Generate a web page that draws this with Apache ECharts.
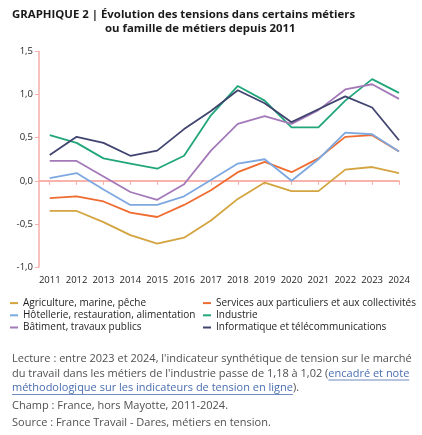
<!DOCTYPE html>
<html>
<head>
<meta charset="utf-8">
<script src="https://cdn.jsdelivr.net/npm/echarts@6/dist/echarts.min.js"></script>
<style>
html,body{margin:0;padding:0;background:#fff;}
#c{width:422px;height:435px;}
</style>
</head>
<body>
<div id="c"></div>
<script>
// ---- data ----
const years = [2011,2012,2013,2014,2015,2016,2017,2018,2019,2020,2021,2022,2023,2024];
const yTicks = [-1, -0.5, 0, 0.5, 1, 1.5];
const seriesNames = [
  "Agriculture, marine, pêche",
  "Services aux particuliers et aux collectivités",
  "Hôtellerie, restauration, alimentation",
  "Industrie",
  "Bâtiment, travaux publics",
  "Informatique et télécommunications"
];
const agriculture  = [-0.35,-0.35,-0.48,-0.63,-0.73,-0.66,-0.46,-0.21,-0.02,-0.12,-0.12,0.13,0.16,0.09];
const services     = [-0.20,-0.18,-0.24,-0.37,-0.42,-0.28,-0.11,0.10,0.22,0.10,0.26,0.51,0.53,0.34];
const hotellerie   = [0.03,0.09,-0.10,-0.28,-0.28,-0.18,0.01,0.20,0.25,0.00,0.25,0.56,0.54,0.34];
const industrie    = [0.53,0.44,0.26,0.20,0.14,0.29,0.76,1.10,0.93,0.62,0.62,0.93,1.18,1.02];
const batiment     = [0.23,0.23,0.05,-0.13,-0.22,-0.04,0.35,0.66,0.75,0.66,0.82,1.06,1.12,0.95];
const informatique = [0.30,0.51,0.44,0.29,0.35,0.60,0.81,1.05,0.90,0.68,0.83,0.98,0.85,0.47];
const seriesValues = [agriculture, services, hotellerie, industrie, batiment, informatique];
const colors = ["#d3a43f","#ef6b2f","#7ea8e0","#21a67c","#a479b9","#41446f"];

const titleLine1 = "GRAPHIQUE 2 | Évolution des tensions dans certains métiers";
const titleLine2 = "ou famille de métiers depuis 2011";
const note1 = "Lecture : entre 2023 et 2024, l'indicateur synthétique de tension sur le marché";
const note2a = "du travail dans les métiers de l'industrie passe de 1,18 à 1,02 (";
const note2b = "encadré et note";
const note3a = "méthodologique sur les indicateurs de tension en ligne";
const note3b = ").";
const note4 = "Champ : France, hors Mayotte, 2011-2024.";
const note5 = "Source : France Travail - Dares, métiers en tension.";

// ---- styles ----
const FONT = "Open Sans";
const PINK = "#f9aea8";
const noteSize = 11;
const noteColor = "#505050";
const linkColor = "#4a6db0";

const mctx = document.createElement("canvas").getContext("2d");
mctx.font = noteSize + "px " + FONT;
const w2a = mctx.measureText(note2a).width;
const w2b = mctx.measureText(note2b).width;
const w3a = mctx.measureText(note3a).width;

const chart = echarts.init(document.getElementById("c"), null, {renderer: "canvas"});

const series = seriesNames.map((n, i) => ({
  name: n,
  type: "line",
  data: years.map((y, j) => [y, seriesValues[i][j]]),
  symbol: "none",
  color: colors[i],
  lineStyle: {width: 1.8, color: colors[i]},
  z: 3,
  animation: false
}));
series[0].markLine = {
  silent: true,
  symbol: "none",
  label: {show: false},
  lineStyle: {color: PINK, width: 1.5, type: "solid"},
  data: [{yAxis: 0}],
  z: 1,
  animation: false
};

const legendText = {fontFamily: FONT, fontSize: 10, color: "#1e1e1e", lineHeight: 12.2};

const option = {
  animation: false,
  textStyle: {fontFamily: FONT},
  title: [
    {text: titleLine1, left: 12, top: 9, padding: 0,
     textStyle: {fontFamily: FONT, fontSize: 11.4, fontWeight: "bold", color: "#1a1a1a"}},
    {text: titleLine2, left: 105, top: 23, padding: 0,
     textStyle: {fontFamily: FONT, fontSize: 11.4, fontWeight: "bold", color: "#1a1a1a"}}
  ],
  grid: {left: 39, right: 23, top: 51.5, bottom: 168, containLabel: false},
  xAxis: {
    type: "value",
    min: 2010.6,
    max: 2024,
    axisLine: {show: true, lineStyle: {color: PINK, width: 1.5}},
    axisTick: {show: true, customValues: years, length: 4, lineStyle: {color: PINK, width: 1}},
    axisLabel: {customValues: years, formatter: v => String(v), color: "#1e1e1e",
                fontFamily: FONT, fontSize: 9.5, margin: 8},
    splitLine: {show: false}
  },
  yAxis: {
    type: "value",
    min: -1,
    max: 1.5,
    interval: 0.5,
    axisLine: {show: true, lineStyle: {color: PINK, width: 1.5}},
    axisTick: {show: true, length: 4, lineStyle: {color: PINK, width: 1}},
    axisLabel: {formatter: v => v.toFixed(1).replace(".", ","), color: "#1e1e1e",
                fontFamily: FONT, fontSize: 9.5, margin: 6},
    splitLine: {show: false}
  },
  legend: [
    {orient: "vertical", left: 10, top: 297, padding: 0, itemGap: 0,
     itemWidth: 8, itemHeight: 2, icon: "rect", selectedMode: false,
     data: [seriesNames[0], seriesNames[2], seriesNames[4]], textStyle: legendText},
    {orient: "vertical", left: 203, top: 297, padding: 0, itemGap: 0,
     itemWidth: 8, itemHeight: 2, icon: "rect", selectedMode: false,
     data: [seriesNames[1], seriesNames[3], seriesNames[5]], textStyle: legendText}
  ],
  graphic: [
    {type: "text", x: 12, y: 359, style: {text: note1, fill: noteColor, font: noteSize + "px " + FONT, textVerticalAlign: "middle"}},
    {type: "text", x: 12, y: 373.5, style: {text: note2a, fill: noteColor, font: noteSize + "px " + FONT, textVerticalAlign: "middle"}},
    {type: "text", x: 12 + w2a, y: 373.5, style: {text: note2b, fill: linkColor, font: noteSize + "px " + FONT, textVerticalAlign: "middle"}},
    {type: "line", shape: {x1: 12 + w2a, y1: 380, x2: 12 + w2a + w2b, y2: 380}, style: {stroke: linkColor, lineWidth: 0.8}},
    {type: "text", x: 12, y: 388, style: {text: note3a, fill: linkColor, font: noteSize + "px " + FONT, textVerticalAlign: "middle"}},
    {type: "line", shape: {x1: 12, y1: 394.5, x2: 12 + w3a, y2: 394.5}, style: {stroke: linkColor, lineWidth: 0.8}},
    {type: "text", x: 12 + w3a, y: 388, style: {text: note3b, fill: noteColor, font: noteSize + "px " + FONT, textVerticalAlign: "middle"}},
    {type: "text", x: 12, y: 406, style: {text: note4, fill: noteColor, font: noteSize + "px " + FONT, textVerticalAlign: "middle"}},
    {type: "text", x: 12, y: 423, style: {text: note5, fill: noteColor, font: noteSize + "px " + FONT, textVerticalAlign: "middle"}}
  ],
  series: series
};
chart.setOption(option);
</script>
</body>
</html>
